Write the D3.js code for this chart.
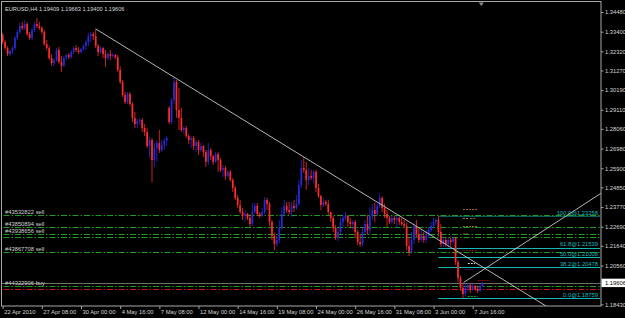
<!DOCTYPE html>
<html>
<head>
<meta charset="utf-8">
<style>
    body {
        margin: 0;
        background: #000;
    }
    svg {
        display: block;
        font-family: "Liberation Sans", Arial, sans-serif;
    }
    .axis text {
        fill: #d6d6d6;
        font-size: 5.8px;
    }
    .axis line {
        stroke: #a0a0a0;
    }
    .axis path {
        display: none;
    }
    .order-label {
        fill: #d0d0d0;
        font-size: 5.8px;
    }
    .fib-label {
        fill: #19b6b6;
        font-size: 5.8px;
        text-anchor: end;
    }
</style>
</head>
<body>
<script src="https://cdnjs.cloudflare.com/ajax/libs/d3/7.8.5/d3.min.js"></script>
<script>

    // EURUSD H4, 22 Apr 2010 16:00 -> 8 Jun 2010 08:00  [open, high, low, close]
    var ohlc = [
        [1.3322,1.3333,1.3272,1.3283],[1.3283,1.3294,1.3239,1.3250],[1.3250,1.3261,1.3206,1.3217],[1.3217,1.3239,1.3206,1.3234],
        [1.3234,1.3261,1.3217,1.3250],[1.3250,1.3316,1.3239,1.3305],[1.3305,1.3349,1.3294,1.3338],[1.3338,1.3388,1.3327,1.3371],
        [1.3371,1.3393,1.3349,1.3360],[1.3360,1.3404,1.3349,1.3382],[1.3382,1.3393,1.3316,1.3327],[1.3327,1.3338,1.3294,1.3305],
        [1.3305,1.3360,1.3294,1.3349],[1.3349,1.3393,1.3338,1.3382],[1.3382,1.3415,1.3360,1.3371],[1.3371,1.3393,1.3349,1.3360],
        [1.3360,1.3371,1.3327,1.3338],[1.3338,1.3349,1.3261,1.3272],[1.3272,1.3294,1.3239,1.3250],[1.3250,1.3261,1.3184,1.3195],
        [1.3195,1.3217,1.3152,1.3168],[1.3168,1.3195,1.3152,1.3184],[1.3184,1.3250,1.3174,1.3239],[1.3239,1.3256,1.3163,1.3174],
        [1.3174,1.3206,1.3119,1.3152],[1.3152,1.3206,1.3146,1.3195],[1.3195,1.3217,1.3184,1.3212],[1.3212,1.3223,1.3190,1.3201],
        [1.3201,1.3239,1.3190,1.3228],[1.3228,1.3261,1.3217,1.3250],[1.3250,1.3267,1.3228,1.3239],[1.3239,1.3256,1.3217,1.3228],
        [1.3228,1.3250,1.3223,1.3245],[1.3245,1.3272,1.3234,1.3261],[1.3261,1.3294,1.3239,1.3283],[1.3283,1.3333,1.3261,1.3316],
        [1.3316,1.3338,1.3283,1.3327],[1.3327,1.3338,1.3294,1.3316],[1.3316,1.3355,1.3250,1.3261],[1.3261,1.3272,1.3206,1.3228],
        [1.3228,1.3261,1.3217,1.3250],[1.3250,1.3256,1.3195,1.3217],[1.3217,1.3239,1.3146,1.3195],[1.3195,1.3228,1.3184,1.3217],
        [1.3217,1.3239,1.3184,1.3206],[1.3206,1.3223,1.3195,1.3212],[1.3212,1.3217,1.3190,1.3201],[1.3201,1.3212,1.3119,1.3130],
        [1.3130,1.3152,1.3053,1.3064],[1.3064,1.3075,1.2981,1.2992],[1.2992,1.3009,1.2943,1.2954],[1.2954,1.3009,1.2943,1.2998],
        [1.2998,1.3009,1.2932,1.2943],[1.2943,1.2954,1.2844,1.2866],[1.2866,1.2899,1.2811,1.2833],[1.2833,1.2861,1.2811,1.2850],
        [1.2850,1.2866,1.2828,1.2855],[1.2855,1.2866,1.2789,1.2811],[1.2811,1.2833,1.2767,1.2789],[1.2789,1.2811,1.2701,1.2712],
        [1.2712,1.2762,1.2646,1.2745],[1.2745,1.2756,1.2515,1.2635],[1.2635,1.2729,1.2597,1.2701],[1.2701,1.2745,1.2625,1.2729],
        [1.2729,1.2800,1.2674,1.2690],[1.2690,1.2745,1.2679,1.2718],[1.2718,1.2756,1.2690,1.2740],[1.2740,1.2767,1.2712,1.2756],
        [1.2921,1.2932,1.2833,1.2844],[1.2844,1.2976,1.2833,1.2965],[1.2965,1.3091,1.2943,1.3064],[1.3064,1.3075,1.2866,1.2910],
        [1.2910,1.3031,1.2800,1.2866],[1.2866,1.2921,1.2789,1.2800],[1.2800,1.2822,1.2778,1.2811],[1.2811,1.2822,1.2756,1.2767],
        [1.2767,1.2778,1.2723,1.2745],[1.2745,1.2767,1.2701,1.2756],[1.2756,1.2767,1.2690,1.2712],[1.2712,1.2745,1.2679,1.2734],
        [1.2734,1.2745,1.2663,1.2690],[1.2690,1.2729,1.2679,1.2712],[1.2712,1.2718,1.2652,1.2679],[1.2679,1.2690,1.2597,1.2625],
        [1.2625,1.2729,1.2608,1.2690],[1.2690,1.2701,1.2635,1.2657],[1.2657,1.2663,1.2608,1.2625],[1.2625,1.2679,1.2619,1.2668],
        [1.2668,1.2679,1.2570,1.2635],[1.2635,1.2646,1.2570,1.2581],[1.2581,1.2608,1.2542,1.2592],[1.2592,1.2603,1.2526,1.2548],
        [1.2548,1.2581,1.2537,1.2570],[1.2570,1.2581,1.2515,1.2526],[1.2526,1.2537,1.2460,1.2482],[1.2482,1.2493,1.2416,1.2427],
        [1.2427,1.2443,1.2372,1.2388],[1.2388,1.2416,1.2339,1.2350],[1.2350,1.2372,1.2306,1.2328],[1.2328,1.2361,1.2295,1.2339],
        [1.2339,1.2345,1.2306,1.2317],[1.2317,1.2339,1.2268,1.2284],[1.2284,1.2399,1.2273,1.2350],[1.2350,1.2399,1.2339,1.2383],
        [1.2383,1.2399,1.2328,1.2339],[1.2339,1.2350,1.2317,1.2328],[1.2328,1.2372,1.2323,1.2350],[1.2350,1.2432,1.2339,1.2416],
        [1.2416,1.2427,1.2361,1.2394],[1.2394,1.2405,1.2273,1.2295],[1.2295,1.2306,1.2196,1.2218],[1.2218,1.2235,1.2141,1.2174],
        [1.2174,1.2218,1.2158,1.2196],[1.2196,1.2306,1.2180,1.2262],[1.2262,1.2377,1.2251,1.2339],[1.2339,1.2416,1.2328,1.2383],
        [1.2383,1.2405,1.2345,1.2361],[1.2361,1.2405,1.2334,1.2350],[1.2350,1.2405,1.2323,1.2383],[1.2383,1.2416,1.2350,1.2372],
        [1.2372,1.2443,1.2361,1.2394],[1.2394,1.2526,1.2383,1.2498],[1.2498,1.2635,1.2482,1.2592],[1.2592,1.2652,1.2564,1.2581],
        [1.2581,1.2625,1.2471,1.2526],[1.2526,1.2592,1.2498,1.2548],[1.2548,1.2581,1.2526,1.2537],[1.2537,1.2581,1.2509,1.2570],
        [1.2570,1.2581,1.2460,1.2482],[1.2482,1.2504,1.2427,1.2438],[1.2438,1.2443,1.2361,1.2388],[1.2388,1.2427,1.2377,1.2405],
        [1.2405,1.2416,1.2383,1.2394],[1.2394,1.2416,1.2334,1.2350],[1.2350,1.2350,1.2295,1.2317],[1.2317,1.2328,1.2240,1.2262],
        [1.2262,1.2279,1.2196,1.2207],[1.2207,1.2262,1.2191,1.2240],[1.2240,1.2317,1.2229,1.2295],[1.2295,1.2334,1.2268,1.2317],
        [1.2317,1.2350,1.2306,1.2328],[1.2328,1.2334,1.2268,1.2295],[1.2295,1.2317,1.2262,1.2284],[1.2284,1.2306,1.2251,1.2295],
        [1.2295,1.2306,1.2207,1.2240],[1.2240,1.2251,1.2169,1.2185],[1.2185,1.2229,1.2158,1.2174],[1.2174,1.2262,1.2163,1.2240],
        [1.2240,1.2306,1.2229,1.2284],[1.2284,1.2334,1.2224,1.2251],[1.2251,1.2377,1.2229,1.2328],[1.2328,1.2394,1.2306,1.2361],
        [1.2361,1.2399,1.2295,1.2339],[1.2339,1.2394,1.2328,1.2383],[1.2383,1.2454,1.2372,1.2427],[1.2427,1.2438,1.2350,1.2372],
        [1.2372,1.2394,1.2317,1.2339],[1.2339,1.2361,1.2268,1.2317],[1.2317,1.2328,1.2284,1.2295],[1.2295,1.2328,1.2284,1.2317],
        [1.2317,1.2328,1.2284,1.2306],[1.2306,1.2328,1.2262,1.2317],[1.2317,1.2323,1.2279,1.2295],[1.2295,1.2317,1.2273,1.2284],
        [1.2284,1.2306,1.2262,1.2273],[1.2273,1.2290,1.2141,1.2163],[1.2163,1.2207,1.2108,1.2130],[1.2130,1.2240,1.2119,1.2196],
        [1.2196,1.2290,1.2174,1.2273],[1.2273,1.2306,1.2207,1.2229],[1.2229,1.2262,1.2180,1.2196],[1.2196,1.2251,1.2185,1.2218],
        [1.2218,1.2240,1.2180,1.2196],[1.2196,1.2251,1.2180,1.2218],[1.2218,1.2268,1.2207,1.2251],[1.2251,1.2295,1.2240,1.2273],
        [1.2273,1.2317,1.2262,1.2295],[1.2295,1.2317,1.2279,1.2306],[1.2306,1.2326,1.2218,1.2240],[1.2240,1.2284,1.2158,1.2174],
        [1.2174,1.2218,1.2158,1.2196],[1.2196,1.2207,1.2158,1.2174],[1.2174,1.2207,1.2152,1.2196],[1.2196,1.2213,1.2163,1.2185],
        [1.2185,1.2218,1.2174,1.2207],[1.2207,1.2213,1.2059,1.2075],[1.2075,1.2086,1.1966,1.1988],[1.1988,1.2000,1.1916,1.1933],
        [1.1933,1.1955,1.1876,1.1900],[1.1900,1.1955,1.1889,1.1933],[1.1933,1.1960,1.1911,1.1949],[1.1949,1.1955,1.1905,1.1922],
        [1.1922,1.1955,1.1916,1.1944],[1.1944,1.1949,1.1916,1.1927],[1.1927,1.1944,1.1905,1.1916],[1.1916,1.1955,1.1911,1.1941],
        [1.19409,1.19663,1.19400,1.19606]
    ];

    var symbolTitle = "EURUSD,H4";
    var priceTicks = [1.34480, 1.33400, 1.32320, 1.31270, 1.30190, 1.29110, 1.28060, 1.26980,
                      1.25900, 1.24850, 1.23770, 1.22690, 1.21640, 1.20560, 1.18430];
    var timeLabels = ["22 Apr 2010", "27 Apr 08:00", "30 Apr 00:00", "4 May 16:00", "7 May 08:00",
                      "12 May 00:00", "14 May 16:00", "19 May 08:00", "24 May 00:00", "26 May 16:00",
                      "31 May 08:00", "3 Jun 00:00", "7 Jun 16:00"];
    var barsPerLabel = 16;

    var orderTickets = ["#43532822 sell", "#43850894 sell", "#43938656 sell", "", "#43867708 sell", "#44322906 buy"];
    var orderPrices = [1.2333, 1.2268, 1.2231, 1.2215, 1.2130, 1.1944];
    var stopPrices = [1.1929];

    var fibLevels = [100.0, 61.8, 50.0, 38.2, 0.0];
    var fibPrices = [1.23258, 1.21539, 1.21008, 1.20478, 1.18759];
    var fibStartBar = 178;

    // trend lines: [bar, price] pairs
    var downTrend = [[38, 1.3355], [123, 1.2652]];
    var upTrend = [[188.3, 1.1963], [244, 1.2449]];

    // short level marks near the last bars: [fromBar, toBar, price]
    var levelMarks = [[188, 194, 1.2366], [188, 190, 1.2318], [191, 193, 1.2318], [188, 194, 1.2273],
                      [188, 190, 1.2235], [188, 194, 1.2141], [190, 193, 1.2070], [189, 192, 1.2036],
                      [194, 199, 1.1976], [190, 194, 1.1890], [195, 199, 1.1878]];
    var levelMarkColors = ["#8a6a3c", "#a88258", "#8a6a3c", "#8a6a3c", "#7a2020", "#7a1414", "#c8c8c8",
                           "#6a1450", "#8a1010", "#1d9a1d", "#19b6b6"];

    var bid = ohlc[ohlc.length - 1][3];
    var shiftBar = 195.5;

    var width = 625, height = 318,
        plotLeft = 1.5, plotTop = 1.5, plotRight = 601, plotBottom = 306,
        candleWidth = 1.7;

    var x = d3.scaleLinear().domain([0, 244.4]).range([2.66, plotRight]);
    var y = d3.scaleLinear().domain([1.18430, 1.34480]).range([304.3, 12]);

    var svg = d3.select("body").append("svg")
        .attr("width", width)
        .attr("height", height);

    svg.append("rect")
        .attr("width", width)
        .attr("height", height)
        .attr("fill", "#000");

    svg.append("clipPath")
        .attr("id", "plot-clip")
      .append("rect")
        .attr("x", plotLeft)
        .attr("y", plotTop)
        .attr("width", plotRight - plotLeft)
        .attr("height", plotBottom - plotTop);

    var plot = svg.append("g").attr("clip-path", "url(#plot-clip)");

    // order lines (dash-dot)
    plot.append("g").selectAll("line")
        .data(orderPrices)
      .enter().append("line")
        .attr("x1", plotLeft + 2)
        .attr("x2", plotRight)
        .attr("y1", function(d) {return Math.round(y(d)) + 0.5})
        .attr("y2", function(d) {return Math.round(y(d)) + 0.5})
        .attr("stroke", "#1f9c1f")
        .attr("stroke-dasharray", "6,2,1.5,2");

    plot.append("g").selectAll("line")
        .data(stopPrices)
      .enter().append("line")
        .attr("x1", plotLeft + 2)
        .attr("x2", plotRight)
        .attr("y1", function(d) {return Math.round(y(d)) + 0.5})
        .attr("y2", function(d) {return Math.round(y(d)) + 0.5})
        .attr("stroke", "#c81414")
        .attr("stroke-dasharray", "6,2,1.5,2");

    // bid line
    plot.append("line")
        .attr("x1", plotLeft)
        .attr("x2", plotRight)
        .attr("y1", Math.round(y(bid)) + 0.5)
        .attr("y2", Math.round(y(bid)) + 0.5)
        .attr("stroke", "#6e6e6e");

    // fibonacci levels
    var fib = plot.append("g");
    fib.selectAll("line")
        .data(fibPrices)
      .enter().append("line")
        .attr("x1", x(fibStartBar))
        .attr("x2", plotRight - 1)
        .attr("y1", function(d) {return Math.round(y(d)) + 0.5})
        .attr("y2", function(d) {return Math.round(y(d)) + 0.5})
        .attr("stroke", "#19b6b6")
        .attr("stroke-dasharray", function(d, i) {return i == 0 ? "1,1" : null});

    fib.selectAll("text")
        .data(fibPrices)
      .enter().append("text")
        .attr("class", "fib-label")
        .attr("x", plotRight - 3)
        .attr("y", function(d) {return y(d) - 1.2})
        .text(function(d, i) {return fibLevels[i].toFixed(1) + "@" + d.toFixed(5)});

    // small level marks
    plot.append("g").selectAll("line")
        .data(levelMarks)
      .enter().append("line")
        .attr("x1", function(d) {return x(d[0])})
        .attr("x2", function(d) {return x(d[1])})
        .attr("y1", function(d) {return Math.round(y(d[2])) + 0.5})
        .attr("y2", function(d) {return Math.round(y(d[2])) + 0.5})
        .attr("stroke", function(d, i) {return levelMarkColors[i]})
        .attr("stroke-width", 1.2)
        .attr("stroke-dasharray", "2,1");

    // candles
    var candles = plot.append("g").selectAll("g")
        .data(ohlc)
      .enter().append("g")
        .attr("fill", function(d) {return d[3] >= d[0] ? "#2a2ad8" : "#ff2b2b"})
        .attr("stroke", function(d) {return d[3] >= d[0] ? "#2a2ad8" : "#ff2b2b"});

    candles.append("line")
        .attr("x1", function(d, i) {return x(i)})
        .attr("x2", function(d, i) {return x(i)})
        .attr("y1", function(d) {return y(d[1])})
        .attr("y2", function(d) {return y(d[2])})
        .attr("stroke-width", 0.8);

    candles.append("rect")
        .attr("x", function(d, i) {return x(i) - candleWidth / 2})
        .attr("y", function(d) {return y(Math.max(d[0], d[3]))})
        .attr("width", candleWidth)
        .attr("height", function(d) {return Math.max(0.8, Math.abs(y(d[0]) - y(d[3])))})
        .attr("stroke", "none");

    // trend lines, extended to the right as rays
    function ray(pts) {
        var x1 = x(pts[0][0]), y1 = y(pts[0][1]),
            x2 = x(pts[1][0]), y2 = y(pts[1][1]),
            slope = (y2 - y1) / (x2 - x1),
            xEnd = plotRight + 50;
        return [[x1, y1], [xEnd, y1 + slope * (xEnd - x1)]];
    }

    plot.append("g").selectAll("path")
        .data([downTrend, upTrend])
      .enter().append("path")
        .attr("d", function(d) {return d3.line()(ray(d))})
        .attr("fill", "none")
        .attr("stroke", "#c8c8c8")
        .attr("stroke-width", 0.9);

    // order labels
    svg.append("g").selectAll("text")
        .data(orderPrices)
      .enter().append("text")
        .attr("class", "order-label")
        .attr("x", 5)
        .attr("y", function(d) {return y(d) - 1})
        .text(function(d, i) {return orderTickets[i]});

    // frame
    svg.append("rect")
        .attr("x", plotLeft)
        .attr("y", plotTop)
        .attr("width", plotRight - plotLeft)
        .attr("height", plotBottom - plotTop)
        .attr("fill", "none")
        .attr("stroke", "#a8a8a8");

    // chart shift marker
    svg.append("path")
        .attr("d", d3.line()([[x(shiftBar) - 2.5, 2.5], [x(shiftBar) + 2.5, 2.5], [x(shiftBar), 6]]) + "Z")
        .attr("fill", "#8a8a8a");

    // price axis
    svg.append("g")
        .attr("class", "axis")
        .attr("transform", "translate(" + plotRight + ",0)")
        .call(d3.axisRight(y)
            .tickValues(priceTicks)
            .tickSize(2.5)
            .tickPadding(1.5)
            .tickFormat(d3.format(".5f")));

    // bid price box
    var bidBox = svg.append("g");
    bidBox.append("rect")
        .attr("x", plotRight + 0.5)
        .attr("y", y(bid) - 4.2)
        .attr("width", width - plotRight)
        .attr("height", 8.4)
        .attr("fill", "#fff");
    bidBox.append("text")
        .attr("x", plotRight + 4)
        .attr("y", y(bid) + 2)
        .attr("font-size", "5.8px")
        .attr("fill", "#000")
        .text(d3.format(".5f")(bid));

    // time axis
    var timeAxis = svg.append("g")
        .attr("class", "axis")
        .attr("transform", "translate(0," + plotBottom + ")")
        .call(d3.axisBottom(x)
            .tickValues(timeLabels.map(function(d, i) {return i * barsPerLabel}))
            .tickSize(3)
            .tickFormat(function(d, i) {return timeLabels[i]}));

    timeAxis.selectAll("text")
        .attr("text-anchor", "start")
        .attr("x", 1)
        .attr("y", 4)
        .attr("dy", "0.71em");

    // title
    svg.append("text")
        .attr("x", 5)
        .attr("y", 10.5)
        .attr("fill", "#d8d8d8")
        .attr("font-size", "5.6px")
        .text(symbolTitle + "  " + ohlc[ohlc.length - 1].map(d3.format(".5f")).join(" "));
</script>
</body>
</html>
